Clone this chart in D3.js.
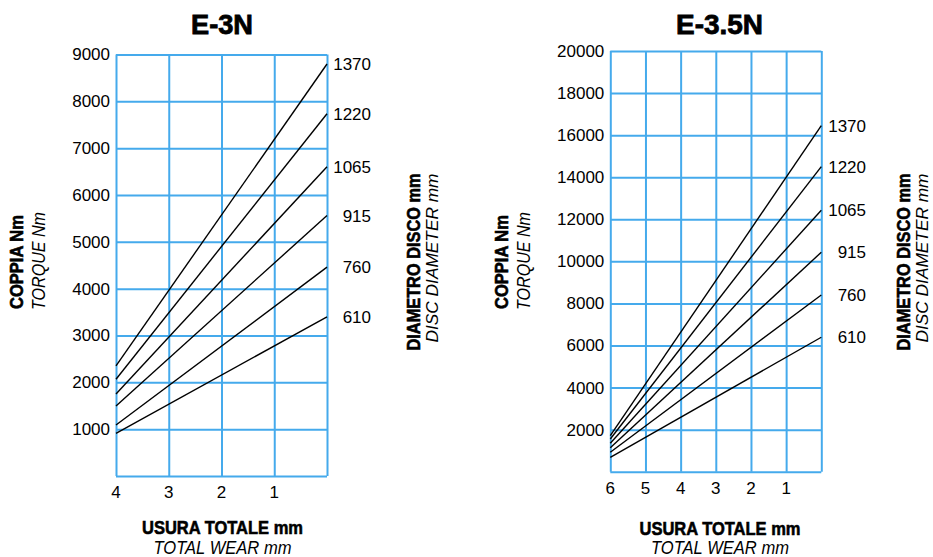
<!DOCTYPE html>
<html>
<head>
<meta charset="utf-8">
<script src="https://cdn.jsdelivr.net/npm/d3@7/dist/d3.min.js"></script>
<style>
  html, body { margin: 0; padding: 0; background: #fff; }
  svg { display: block; }
  text { font-family: "Liberation Sans", Arial, sans-serif; fill: #000; }
</style>
</head>
<body>
<svg id="chart" width="933" height="557"></svg>
<script>
// ---------- DATA ----------
const diameters = ["610", "760", "915", "1065", "1220", "1370"];

// E-3N : torque (Nm) at total wear = 4 mm and at 0 mm, per disc diameter
const e3nWearEnds = [4, 0];
const e3nTorqueAtMaxWear  = [912, 1090, 1496, 1752, 2066, 2350];
const e3nTorqueAtZeroWear = [3397, 4459, 5562, 6603, 7735, 8797];
const e3nWearTicks   = [4, 3, 2, 1, 0];
const e3nTorqueTicks = [0, 1000, 2000, 3000, 4000, 5000, 6000, 7000, 8000, 9000];

// E-3.5N : torque (Nm) at total wear = 6 mm and at 0 mm, per disc diameter
const e35nWearEnds = [6, 0];
const e35nTorqueAtMaxWear  = [685, 922, 1141, 1350, 1555, 1712];
const e35nTorqueAtZeroWear = [6391, 8402, 10433, 12430, 14503, 16452];
const e35nWearTicks   = [6, 5, 4, 3, 2, 1, 0];
const e35nTorqueTicks = [0, 2000, 4000, 6000, 8000, 10000, 12000, 14000, 16000, 18000, 20000];

// ---------- LAYOUT ----------
const charts = [
  {
    title: "E-3N", wearEnds: e3nWearEnds, atMax: e3nTorqueAtMaxWear, atZero: e3nTorqueAtZeroWear,
    wearTicks: e3nWearTicks, torqueTicks: e3nTorqueTicks,
    x0: 116, x1: 327, yTop: 54.5, yBot: 476,
    titleX: 222, titleLen: 62,
    labelX: 371,
    yTitleB: 23, yTitleI: 45, yTitleCy: 262,
    rTitleB: 420, rTitleI: 438,
    xTickBase: 498, xTitleCx: 222.5, xTitleB: 534, xTitleI: 554
  },
  {
    title: "E-3.5N", wearEnds: e35nWearEnds, atMax: e35nTorqueAtMaxWear, atZero: e35nTorqueAtZeroWear,
    wearTicks: e35nWearTicks, torqueTicks: e35nTorqueTicks,
    x0: 610.3, x1: 821.3, yTop: 51, yBot: 471.7,
    titleX: 719.5, titleLen: 87,
    labelX: 866,
    yTitleB: 508, yTitleI: 530, yTitleCy: 262,
    rTitleB: 910, rTitleI: 928,
    xTickBase: 493.5, xTitleCx: 720, xTitleB: 535, xTitleI: 554
  }
];

const svg = d3.select("#chart");
const gridColor = "#45aaec";

charts.forEach(c => {
  const x = d3.scaleLinear().domain([c.wearTicks[0], 0]).range([c.x0, c.x1]);
  const y = d3.scaleLinear().domain([0, c.torqueTicks[c.torqueTicks.length - 1]]).range([c.yBot, c.yTop]);
  const g = svg.append("g");

  // grid horizontal
  g.append("g")
    .attr("transform", `translate(${c.x0},0)`)
    .call(d3.axisLeft(y).tickValues(c.torqueTicks).tickSize(-(c.x1 - c.x0)).tickFormat(""))
    .call(s => s.select(".domain").remove())
    .call(s => s.selectAll("line").attr("stroke", gridColor).attr("stroke-width", 2));

  // grid vertical
  g.append("g")
    .attr("transform", `translate(0,${c.yBot})`)
    .call(d3.axisBottom(x).tickValues(c.wearTicks).tickSize(-(c.yBot - c.yTop)).tickFormat(""))
    .call(s => s.select(".domain").remove())
    .call(s => s.selectAll("line").attr("stroke", gridColor).attr("stroke-width", 2));

  // y tick labels
  g.append("g")
    .attr("transform", `translate(${c.x0},0)`)
    .call(d3.axisLeft(y).tickValues(c.torqueTicks.filter(v => v > 0)).tickSize(0).tickPadding(6).tickFormat(d3.format("d")))
    .call(s => s.select(".domain").remove())
    .call(s => s.selectAll("text").attr("font-size", 17).attr("font-family", "'Liberation Sans', Arial, sans-serif").attr("fill", "#000"));

  // x tick labels
  g.append("g").selectAll("text")
    .data(c.wearTicks.filter(v => v > 0))
    .join("text")
    .attr("x", d => x(d))
    .attr("y", c.xTickBase)
    .attr("text-anchor", "middle")
    .attr("font-size", 17)
    .text(d => d);

  // data lines
  const line = d3.line().x(d => x(d[0])).y(d => y(d[1]));
  diameters.forEach((dia, i) => {
    const pts = [[c.wearEnds[0], c.atMax[i]], [c.wearEnds[1], c.atZero[i]]];
    g.append("path")
      .attr("d", line(pts))
      .attr("fill", "none")
      .attr("stroke", "#000")
      .attr("stroke-width", 1.4);
    g.append("text")
      .attr("x", c.labelX)
      .attr("y", y(c.atZero[i]))
      .attr("dy", "0.36em")
      .attr("text-anchor", "end")
      .attr("font-size", 17)
      .text(dia);
  });

  // chart title
  g.append("text")
    .attr("x", c.titleX).attr("y", 34)
    .attr("text-anchor", "middle")
    .attr("font-size", 27).attr("font-weight", "bold")
    .attr("stroke", "#000").attr("stroke-width", 0.8)
    .attr("textLength", c.titleLen).attr("lengthAdjust", "spacingAndGlyphs")
    .text(c.title);

  // rotated titles
  const rot = (tx, ty, txt, bold, len, size) => {
    const t = g.append("text")
      .attr("transform", `translate(${tx},${ty}) rotate(-90)`)
      .attr("text-anchor", "middle")
      .attr("font-size", size)
      .attr("font-weight", bold ? "bold" : "normal")
      .attr("font-style", bold ? "normal" : "italic")
      .attr("textLength", len).attr("lengthAdjust", "spacingAndGlyphs")
      .text(txt);
    if (bold) t.attr("stroke", "#000").attr("stroke-width", 0.6);
  };
  rot(c.yTitleB, c.yTitleCy, "COPPIA Nm", true, 94, 18);
  rot(c.yTitleI, c.yTitleCy - 1, "TORQUE Nm", false, 98, 18);
  rot(c.rTitleB, c.yTitleCy, "DIAMETRO DISCO mm", true, 177, 18);
  rot(c.rTitleI, c.yTitleCy - 4, "DISC DIAMETER mm", false, 169, 17);

  // x titles
  g.append("text")
    .attr("x", c.xTitleCx).attr("y", c.xTitleB)
    .attr("text-anchor", "middle")
    .attr("font-size", 19).attr("font-weight", "bold")
    .attr("stroke", "#000").attr("stroke-width", 0.6)
    .attr("textLength", 161).attr("lengthAdjust", "spacingAndGlyphs")
    .text("USURA TOTALE mm");
  g.append("text")
    .attr("x", c.xTitleCx).attr("y", c.xTitleI)
    .attr("text-anchor", "middle")
    .attr("font-size", 18).attr("font-style", "italic")
    .attr("textLength", 138).attr("lengthAdjust", "spacingAndGlyphs")
    .text("TOTAL WEAR mm");
});
</script>
</body>
</html>
